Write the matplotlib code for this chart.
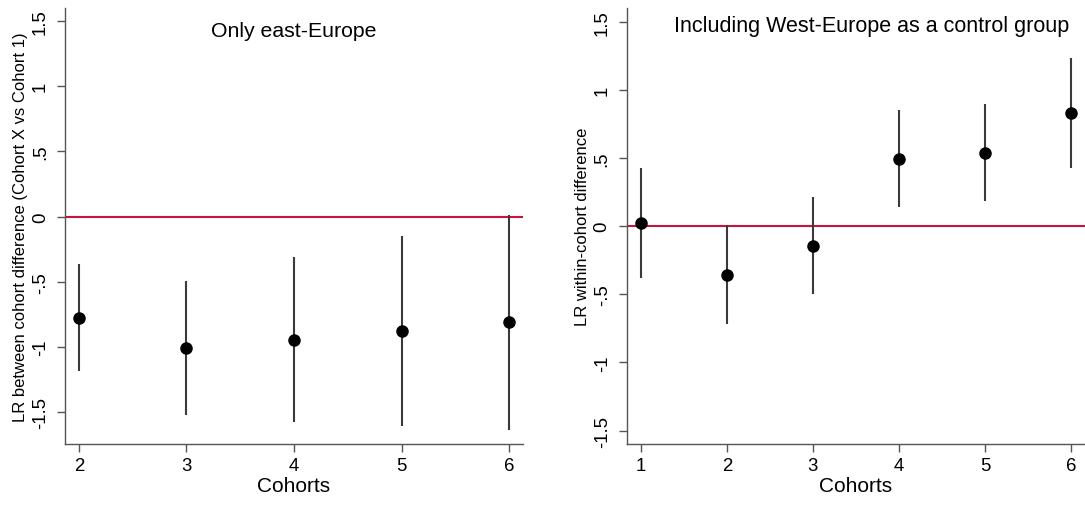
import matplotlib
matplotlib.use("Agg")
import matplotlib.pyplot as plt

plt.rcParams['font.family'] = ['Liberation Sans', 'DejaVu Sans']

# left panel: only east-Europe
cohorts_east = [2, 3, 4, 5, 6]
est_east = [-0.774, -1.006, -0.942, -0.873, -0.807]
lo_east = [-1.185, -1.522, -1.578, -1.603, -1.636]
hi_east = [-0.363, -0.490, -0.311, -0.148, 0.015]

# right panel: with West-Europe as control group
cohorts_west = [1, 2, 3, 4, 5, 6]
est_west = [0.024, -0.356, -0.142, 0.495, 0.539, 0.827]
lo_west = [-0.383, -0.718, -0.495, 0.144, 0.183, 0.425]
hi_west = [0.427, 0.007, 0.215, 0.849, 0.898, 1.230]

ytick_vals = [-1.5, -1, -0.5, 0, 0.5, 1, 1.5]
ytick_labels = ['-1.5', '-1', '-.5', '0', '.5', '1', '1.5']

W, H = 1085, 506
fig = plt.figure(figsize=(W/100, H/100), dpi=100)

ax1 = fig.add_axes([65/W, 1-445/H, (522.7-65)/W, (445-9.3)/H])
ax2 = fig.add_axes([626.7/W, 1-445/H, (1085-626.7)/W, (445-9.3)/H])

def style(ax, xlim, ylim, xticks):
    ax.axhline(0, color='#c8143c', lw=1.5, zorder=1)
    ax.set_xlim(*xlim)
    ax.set_ylim(*ylim)
    ax.set_xticks(xticks)
    ax.set_yticks(ytick_vals)
    ax.set_yticklabels(ytick_labels, rotation=90, va='center')
    for s in ['top', 'right']:
        ax.spines[s].set_visible(False)
    for s in ['left', 'bottom']:
        ax.spines[s].set_color('#555555')
        ax.spines[s].set_linewidth(1.0)
    ax.tick_params(axis='both', length=5.5, width=1.0, color='#555555',
                   labelsize=13.4)
    ax.tick_params(axis='y', pad=6)
    ax.tick_params(axis='x', pad=4)
    ax.set_xlabel('Cohorts', fontsize=15, labelpad=1)

# left
ax1.vlines(cohorts_east, lo_east, hi_east, color='#3a3a3a', lw=1.5, zorder=2)
ax1.plot(cohorts_east, est_east, 'o', color='black', ms=8, zorder=3)
style(ax1, (1.87, 6.127), (-1.743, 1.597), cohorts_east)
ax1.set_ylabel('LR between cohort difference (Cohort X vs Cohort 1)', fontsize=12, labelpad=3)
ax1.text(0.5, 1-(36.7-9.3)/435.7, 'Only east-Europe', transform=ax1.transAxes,
         ha='center', va='baseline', fontsize=15.3)

# right
ax2.vlines(cohorts_west, lo_west, hi_west, color='#3a3a3a', lw=1.5, zorder=2)
ax2.plot(cohorts_west, est_west, 'o', color='black', ms=8, zorder=3)
style(ax2, (0.837, 6.163), (-1.598, 1.598), cohorts_west)
ax2.set_ylabel('LR within-cohort difference', fontsize=12, labelpad=3)
fig.text(871.7/W, 1-31.7/H, 'Including West-Europe as a control group',
         ha='center', va='baseline', fontsize=15.5)

fig.savefig('out.png', dpi=100)
